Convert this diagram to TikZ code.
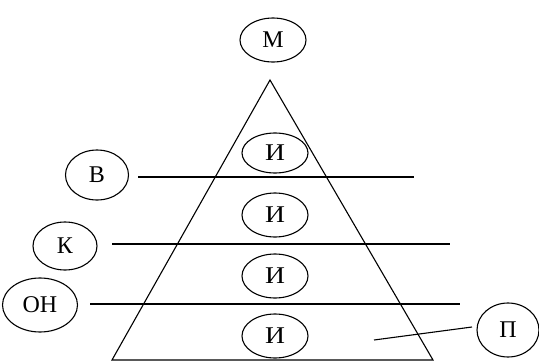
\documentclass[tikz,border=0pt]{standalone}
\usepackage{fontspec}
\setmainfont{Liberation Serif}
\usetikzlibrary{shapes.geometric}
\begin{document}
\begin{tikzpicture}[x=1pt,y=-1pt,
  ell/.style={draw,ellipse,line width=1.1pt,inner sep=0pt},
  txt/.style={font=\fontsize{24}{27}\selectfont},
  ln/.style={line width=1.1pt}]
\useasboundingbox (0,0) rectangle (539,362);
% triangle
\coordinate (apex) at (270,80);
\coordinate (bl) at (112,360);
\coordinate (br) at (433,360);
\draw[ln,line join=miter] (apex) -- (bl) -- (br) -- cycle;
% top
\node[ell,txt,minimum width=66,minimum height=44] (m) at (273,40) {М};
% inner ellipses
\node[ell,txt,minimum width=66,minimum height=40] (i1) at (275,153) {\scalebox{1.15}[1]{И}};
\node[ell,txt,minimum width=66,minimum height=44] (i2) at (275,215) {\scalebox{1.15}[1]{И}};
\node[ell,txt,minimum width=66,minimum height=44] (i3) at (275,276) {\scalebox{1.15}[1]{И}};
\node[ell,txt,minimum width=66,minimum height=44] (i4) at (275,336) {\scalebox{1.15}[1]{И}};
% side ellipses
\node[ell,txt,minimum width=63,minimum height=50] (v) at (97,175) {В};
\node[ell,txt,minimum width=64,minimum height=48] (k) at (65,246) {К};
\node[ell,txt,minimum width=75,minimum height=54] (on) at (40,305) {ОН};
\node[ell,txt,minimum width=62,minimum height=54] (p) at (508,330) {П};
% lines
\coordinate (v1) at (138,177); \coordinate (v2) at (414,177);
\coordinate (k1) at (112,244); \coordinate (k2) at (450,244);
\coordinate (o1) at (90,304);  \coordinate (o2) at (460,304);
\coordinate (p1) at (374,340); \coordinate (p2) at (472,327);
\draw[ln] (v1) -- (v2);
\draw[ln] (k1) -- (k2);
\draw[ln] (o1) -- (o2);
\draw[ln] (p1) -- (p2);
\end{tikzpicture}
\end{document}
